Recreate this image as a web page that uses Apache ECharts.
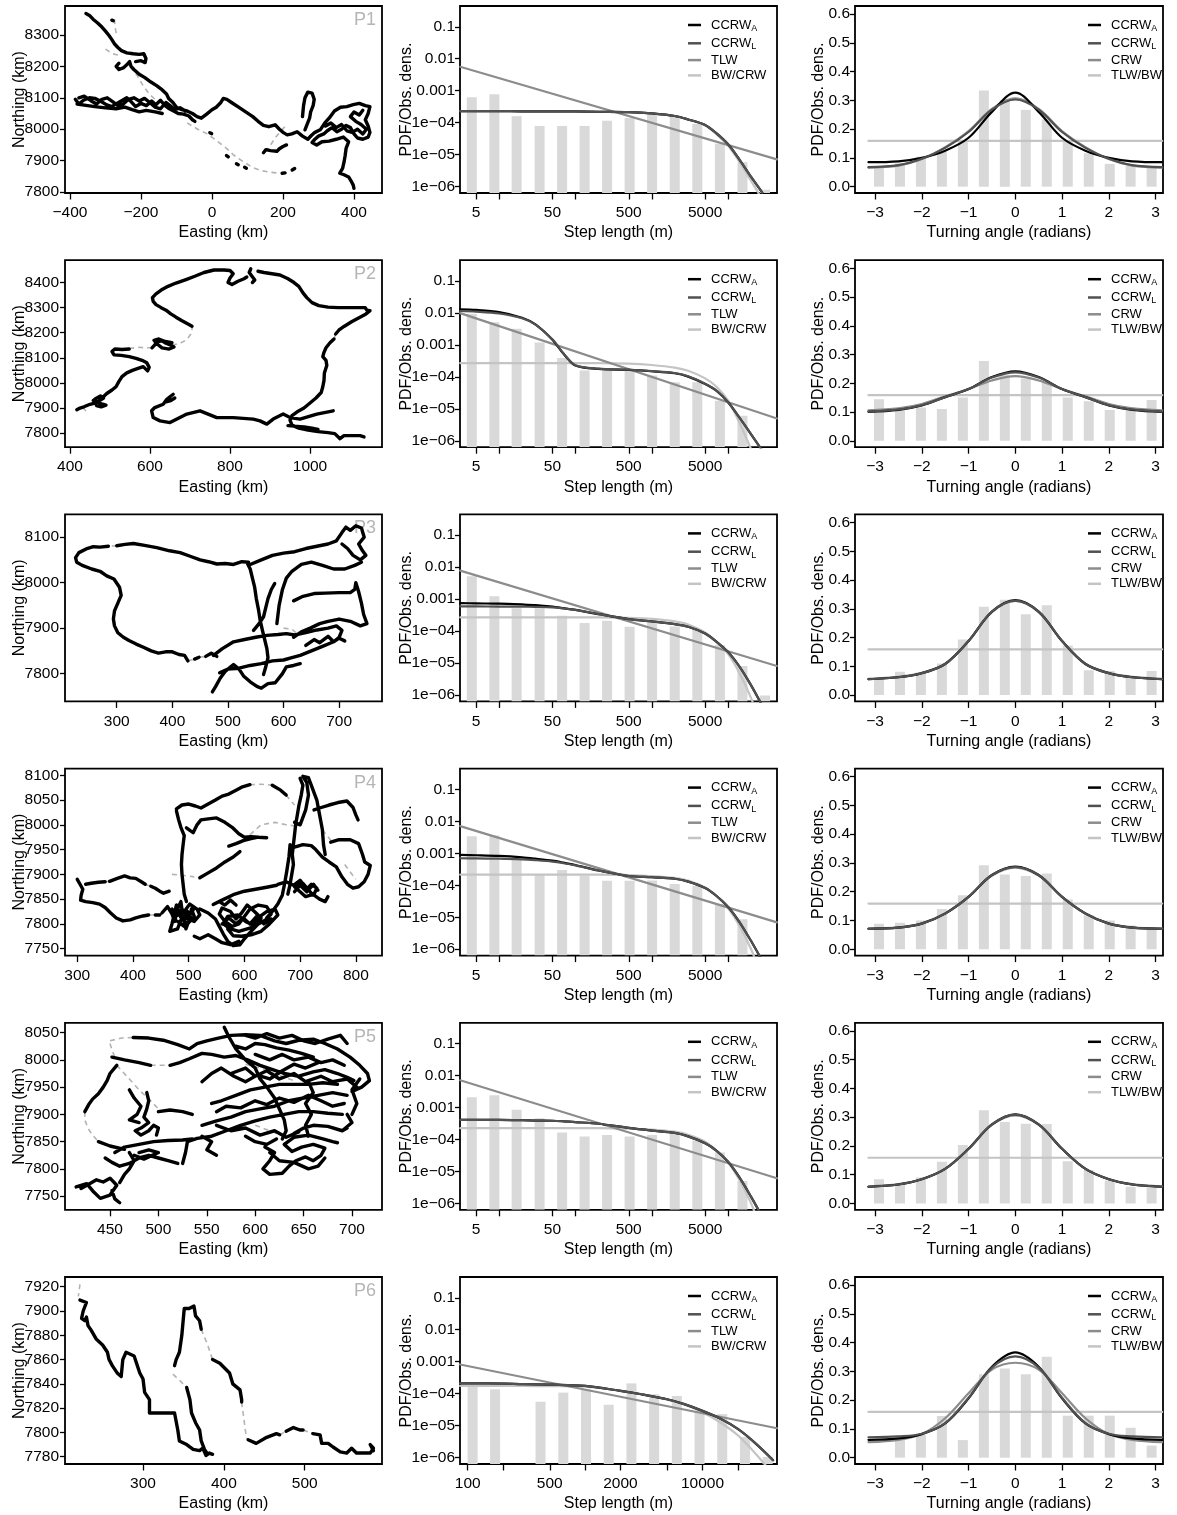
<!DOCTYPE html>
<html><head><meta charset="utf-8">
<script src="https://cdn.jsdelivr.net/npm/echarts@6/dist/echarts.min.js"></script>
<style>html,body{margin:0;padding:0;background:#fff}#c{width:1177px;height:1515px}</style>
</head><body><div id="c"></div>
<script>
// ---------------- DATA ----------------
const panelLabels = ['P1','P2','P3','P4','P5','P6'];

// Column 1: axis ranges & ticks (km)
const mapXRange = [[-414,479],[387.5,1180],[207,777],[278,847],[403.5,731],[203.5,595.6]];
const mapYRange = [[7797,8392],[7744,8489],[7739,8150],[7736,8113.5],[7725,8068],[7774,7928]];
const mapXTicks = [[-400,-200,0,200,400],[400,600,800,1000],[300,400,500,600,700],[300,400,500,600,700,800],[450,500,550,600,650,700],[300,400,500]];
const mapYTicks = [[7800,7900,8000,8100,8200,8300],[7800,7900,8000,8100,8200,8300,8400],[7800,7900,8000,8100],[7750,7800,7850,7900,7950,8000,8050,8100],[7750,7800,7850,7900,7950,8000,8050],[7780,7800,7820,7840,7860,7880,7900,7920]];

// Tracks: segments of flat [x,y,x,y,...] (km)
const p1Track = [
 [-355,8368,-345,8362,-335,8350,-322,8338,-310,8325,-300,8312,-290,8298,-282,8285,-275,8272,-265,8260,-255,8250,-240,8243,-222,8240,-205,8238,-192,8240,-186,8225,-188,8212,-200,8218,-215,8215],
 [-262,8210,-270,8200,-262,8190,-250,8195,-240,8205,-232,8215,-228,8200,-220,8190,-205,8175,-190,8165,-172,8150,-155,8138,-140,8125,-128,8112,-122,8098,-110,8085,-100,8070,-85,8062,-70,8058,-55,8050,-42,8040,-30,8035,-15,8048,0,8062,12,8070,25,8085,32,8098,42,8095,55,8085,75,8070,95,8055,115,8040,130,8025,145,8012,160,8008,178,8014,190,8000,200,7990,212,7982,225,7985,240,7992,255,7978,270,7968,280,7980,290,7990],
 [-385,8095,-375,8080,-362,8092,-345,8100,-330,8098,-312,8088,-298,8078,-282,8072,-268,8082,-252,8092,-240,8100,-228,8088,-215,8072,-200,8082,-185,8075,-170,8090,-158,8078,-145,8092,-132,8075,-120,8065,-108,8058,-95,8050,-80,8048,-65,8042,-55,8030,-48,8025],
 [-380,8080,-355,8076,-330,8072,-300,8068,-270,8065,-245,8070,-225,8062,-205,8055,-185,8060,-160,8055,-140,8050],
 [-375,8100,-360,8105,-340,8090,-325,8080,-310,8095,-295,8100,-280,8088,-265,8075,-250,8080,-235,8095,-220,8100,-205,8090,-190,8098,-175,8085,-160,8070,-145,8065,-130,8085,-118,8075,-105,8062,-90,8068,-75,8058],
 [255,8040,258,8075,262,8100,270,8118,282,8115,288,8095,285,8075,278,8055,275,8035,268,8015,262,7998],
 [290,7990,305,7998,318,8020,330,8035,345,8058,362,8070,380,8072,398,8078,415,8082,432,8075,445,8072,440,8050,432,8030,440,8010,445,7990,440,7975,425,7968,410,7972,400,7985,390,8005,378,8012,365,8000,352,7992,338,8005,325,7995,315,7985,300,7978,290,7968,282,7958,295,7950,310,7960,330,7962,350,7968,370,7975,385,7960,378,7940,375,7915,372,7895,368,7875,360,7860,372,7855,385,7848,392,7835,398,7822,400,7812],
 [320,8010,335,8020,350,8005,365,8015,380,7995,395,7990,410,8000,425,7985,435,8000,420,8015,405,8025,390,8040,400,8055,415,8045,425,8060],
 [145,7925,152,7935,165,7932,183,7930,190,7938,200,7945,210,7950],
 [-6,7989,-1,7986],[41,7916,46,7912],[69,7890,74,7887],[92,7879,97,7876],[198,7860,206,7861],[226,7870,233,7875],[-282,8347,-278,8345]
];
const p1Gap = [
 [-275,8350,-272,8320,-268,8295],
 [-300,8255,-280,8240,-262,8235],
 [-230,8200,-210,8170,-195,8140,-175,8110,-160,8095],
 [-70,8020,-40,8000,-13,7985,15,7962,40,7940,61,7918,90,7895,117,7877,140,7868,165,7863,190,7860,205,7861],
 [150,7928,165,7950,180,7975,195,7995,205,8008]
];
const p2Track = [
 [417,7893,425,7900,435,7905,450,7915,462,7920,472,7928,484,7940,476,7948,465,7938,458,7930,470,7922,482,7915,490,7912,478,7905,466,7910],
 [480,7940,492,7958,505,7972,515,7985,522,8005,530,8025,542,8040,556,8050,570,8058,583,8065,594,8048,598,8062,592,8080,580,8090,565,8098,548,8105,528,8110,510,8112,505,8125,512,8135,530,8133,548,8135],
 [605,8140,612,8152,620,8165,630,8168,640,8158,652,8150,660,8143,648,8135,630,8140,618,8155,610,8170,622,8175,638,8165,655,8160],
 [705,8226,695,8235,680,8248,665,8262,652,8275,640,8290,628,8300,615,8312,608,8325,606,8340,615,8355,628,8370,645,8385,665,8398,690,8412,712,8425,735,8440,760,8450,785,8450,800,8448,808,8435,800,8418,795,8400,805,8392,820,8405,835,8415,842,8422],
 [852,8455,848,8440,855,8425,862,8410,856,8400],
 [870,8445,885,8440,905,8435,925,8430,945,8415,960,8400,972,8385,982,8360,992,8340,1005,8320,1022,8308,1045,8302,1070,8300,1095,8300,1120,8300,1138,8300,1142,8290,1150,8288,1155,8294,1140,8275,1125,8262,1105,8245,1085,8225,1072,8210,1064,8195],
 [1060,8175,1050,8160,1040,8140,1035,8122,1032,8105,1040,8090,1042,8070,1036,8040,1035,8010,1032,7985,1028,7962,1015,7940,1000,7920,985,7900,968,7885,955,7870,950,7852,955,7832,972,7820,995,7812,1020,7806,1045,7802,1062,7798,1075,7778,1085,7790,1105,7790,1125,7790,1135,7785],
 [1058,7889,1017,7876,975,7856,950,7862,933,7876,908,7856,892,7836,875,7849,858,7856,808,7862,767,7862,725,7889,692,7876,650,7842,625,7849,608,7862,604,7889,612,7902,633,7915,642,7935,658,7955,650,7945,640,7925,652,7930,662,7940],
 [945,7830,960,7828,985,7825,1005,7820,1020,7815]
];
const p2Gap = [
 [548,8137,570,8142,590,8140,608,8140],
 [655,8150,675,8158,692,8172,702,8195,706,8222],
 [1064,8195,1060,8175],
 [432,7902,440,7888]
];
const p3Track = [
 [537,8045,525,8046,510,8040,495,8042,480,8041,465,8046,450,8050,432,8058,414,8066,395,8070,372,8077,350,8082,330,8086,315,8084,300,8081],
 [285,8080,270,8078,258,8079,245,8074,232,8066,226,8055,228,8045,238,8038,255,8030,270,8025,282,8015,295,8008,305,7990,308,7972,302,7955,296,7938,294,7920,296,7905,302,7890,312,7880,322,7873,335,7865,348,7858,362,7850,375,7845,388,7848,400,7848,412,7842,422,7840,428,7828],
 [440,7832,448,7836],[460,7838,470,7845,480,7838],
 [472,7760,478,7772,486,7790,495,7805,510,7820,520,7810,528,7795,540,7782,552,7772,560,7768,572,7778,585,7780,598,7800,605,7815,618,7818,630,7822],
 [474,7840,490,7855,510,7870,530,7875,550,7880,570,7884,590,7886,605,7888,620,7885,640,7890,660,7896,680,7900,695,7905,705,7895,700,7880,690,7870,670,7860,650,7850,630,7840,615,7835,600,7830,580,7828,560,7822,540,7818,520,7812,500,7810,485,7802],
 [534,8045,540,8030,544,8010,548,7990,551,7965,555,7940,558,7917,562,7895,566,7875,570,7855,572,7835,568,7815,564,7798],
 [540,8040,560,8050,580,8060,600,8065,620,8068,640,8075,660,8080,680,8085,695,8092,705,8110,712,8122,720,8115,730,8125,740,8120,745,8100,735,8085,742,8070,748,8060,738,8050,725,8060,715,8075,705,8085],
 [588,7910,592,7950,598,7985,605,8010,615,8025,632,8040,650,8045,670,8038,690,8030,710,8030,728,8038,740,8045],
 [618,7960,635,7970,655,7976,675,7977,700,7978,720,7978,728,7985,730,8000,735,7980,740,7955,744,7930,750,7910,738,7905,720,7915,700,7920,680,7915,665,7910,648,7900,632,7892,618,7880],
 [546,7895,556,7910,564,7925,568,7945,572,7965,578,7985,584,7998],
 [640,7862,655,7875,665,7868,680,7882,690,7870,700,7878,710,7872]
];
const p3Gap = [[300,8081,285,8080],[428,7828,440,7832],[448,7836,460,7838],[600,7900,615,7898,622,7890]];
const p4Track = [
 [300,7890,305,7880,310,7870,307,7858,306,7848,315,7845,328,7843,340,7840,350,7833,360,7822,370,7812,382,7806,395,7808,405,7812,418,7816,428,7818],
 [440,7818,448,7818],
 [315,7880,325,7882,338,7884,350,7885],
 [358,7886,372,7892,385,7897,395,7893,405,7892,415,7885,422,7880],
 [432,7876,440,7872,448,7866,455,7862,465,7866],
 [452,7822,462,7835,470,7820,475,7805,480,7830,486,7845,490,7812,495,7790,500,7805,505,7830,510,7815,498,7800,485,7815,478,7838,470,7800,466,7785,480,7790,492,7825,502,7840,515,7830,520,7818,510,7805,495,7812,488,7822,475,7815],
 [520,7830,535,7822,548,7810,555,7795,562,7780,570,7765,580,7756,592,7758,600,7770,612,7785,625,7800,638,7808,648,7820,640,7835,625,7838,610,7830,600,7815,590,7800,578,7795,565,7805,555,7820,560,7832,575,7825,585,7810,595,7822,605,7838,618,7825,630,7812,620,7795,605,7790,590,7785,575,7790,562,7800,570,7815,588,7818,602,7805,615,7798,628,7815,640,7825,655,7830,660,7818,645,7800,630,7785,612,7778,595,7775,580,7776,570,7790],
 [560,7800,572,7812,585,7800,598,7812,610,7800,622,7815,635,7800,648,7810],
 [470,7830,478,7818,488,7830,498,7815,508,7828],
 [480,7805,492,7795,505,7810,498,7825],
 [555,7845,565,7838,575,7848,585,7838],
 [510,7775,520,7770,535,7778,548,7770,560,7762,575,7758,590,7765],
 [478,8028,482,8010,486,7995,492,7978,490,7960,488,7940,487,7920,488,7900,490,7880,492,7860,496,7845],
 [496,7994,508,7984,515,8000,522,8010,535,8012,550,8014,565,8005,578,7995,590,7982,600,7975,612,7976,625,7975,640,7974],
 [478,8032,488,8040,500,8042,512,8038,522,8034,535,8042,548,8050,560,8058,572,8062,585,8070,595,8076,610,8081],
 [650,8080,665,8070,675,8060],
 [572,7957,585,7962,598,7968,612,7972,625,7975],
 [520,7893,535,7903,550,7913,565,7925,580,7935,592,7946],
 [700,8094,705,8080,702,8060,698,8040,695,8020,692,8000,690,7980,688,7960,686,7940,688,7920,685,7900,682,7880,678,7860],
 [690,8005,700,8000,710,8030,715,8060,712,8085,705,8098,715,8095,720,8080,730,8050,735,8020,740,7990,742,7960,745,7940],
 [725,8030,738,8035,752,8040,768,8045,784,8048,795,8035,800,8020,804,8010],
 [755,7965,770,7970,790,7970,805,7962,812,7940,816,7925,826,7918,822,7900,815,7885,805,7875,795,7872,785,7880,775,7895,765,7915,752,7925,740,7935,728,7950,720,7958,705,7960,690,7955],
 [660,7880,675,7885,688,7878,700,7888,712,7870,720,7880,730,7872,725,7860,710,7855,700,7865,690,7875,705,7882,720,7862,735,7850,745,7845,750,7855],
 [690,7865,700,7878,712,7865,724,7880,732,7868],
 [544,7839,560,7848,580,7859,600,7866,620,7870,640,7874,658,7878],
 [640,7812,650,7825,660,7840,668,7858,672,7880,676,7906,680,7935,682,7960]
];
const p4Gap = [[428,7818,440,7818],[350,7885,358,7886],[422,7880,432,7876],[610,8081,630,8082,650,8080],[675,8060,682,8050,690,8040],[470,7900,490,7898,510,7895],[610,7980,630,8000,655,8005,675,8000,690,7998],[740,7990,760,7962],[780,7920,800,7890]];
const p5Track = [
 [474,8041,490,8040,505,8036,520,8028,532,8020,540,8030,550,8035,562,8040,575,8045,590,8046,605,8045,620,8035,632,8030,645,8036,660,8038,672,8030,685,8020,698,8005,708,7990,716,7975,718,7962,710,7950,700,7942],
 [452,8005,465,8000,480,7995,492,7990],
 [512,7990,522,7995,532,8002,545,8012,555,8010,568,8005,580,8008,592,8000,605,7990,618,7982,630,7975,645,7970,660,7978,672,7982,685,7975,695,7968,702,7962],
 [457,7990,450,7975,447,7962,443,7950,438,7938,432,7928,428,7918,424,7905],
 [438,7850,450,7842,465,7836],
 [415,7767,426,7773,433,7758,440,7746,450,7752,457,7770,450,7783,443,7776,436,7780,428,7772,420,7764],
 [452,7760,455,7745,460,7738],
 [445,7820,452,7812,460,7805,470,7810,480,7820,490,7825,500,7820,510,7815,520,7810],
 [455,7830,465,7840,480,7845,495,7850,510,7852,525,7853,535,7855],
 [470,7830,475,7815,470,7800,465,7790,460,7775],
 [480,7830,490,7835,500,7830,485,7818,475,7825],
 [525,7810,528,7830,530,7850,540,7856,555,7860,570,7870,585,7880,600,7888,615,7895,630,7900,645,7905,660,7905,675,7902,690,7900],
 [545,7880,560,7888,575,7895,590,7905,605,7910,620,7915,635,7925,650,7930,665,7935,680,7940,695,7935],
 [555,7920,565,7925,580,7935,595,7945,610,7950,625,7955,640,7955,655,7955,670,7958,685,7955],
 [488,7940,490,7925,488,7910,485,7895,490,7885,482,7875,476,7870,482,7862,490,7870,495,7880,500,7875,498,7862],
 [470,7945,475,7930,482,7915,478,7900,470,7890,480,7885],
 [500,7905,512,7908,525,7905,535,7900],
 [610,7840,620,7830,615,7815,608,7800,615,7790,628,7792,635,7805,642,7815,652,7822,660,7815,668,7825,672,7838,660,7845,648,7840,638,7832,630,7845,640,7858,655,7862,670,7855,680,7850,685,7848],
 [615,7830,625,7815,640,7812,655,7800,665,7805,672,7820],
 [640,7865,650,7875,660,7880,675,7878,690,7870,695,7875],
 [560,7880,575,7870,590,7875,605,7862,620,7870,632,7858,645,7868],
 [590,7860,600,7850,612,7845,622,7855],
 [545,7860,555,7850,550,7835,560,7825],
 [568,8060,572,8045,580,8020,590,8000,600,7985,605,7965,612,7950,620,7930,625,7910,630,7890,632,7870,628,7855],
 [580,8025,590,8020,600,8030,610,8028,622,8022,635,8018,648,8012,660,8005],
 [590,8045,600,8040,612,8048,625,8040,638,8045,650,8035,662,8030,675,8038,688,8045,695,8030],
 [600,8010,615,8000,628,8010,640,8000,655,8005,668,7995,680,8000,692,7990],
 [575,7975,590,7985,600,7970,612,7980,625,7965,640,7975,652,7960,668,7970,680,7960,695,7965,705,7950],
 [560,7905,570,7915,585,7912,600,7925,612,7918,625,7930,640,7922,655,7935,668,7925,680,7915,692,7920],
 [545,7960,555,7975,565,7985,578,7970,590,7960,602,7972,615,7965,628,7980,640,7992,652,7985,665,7995],
 [655,7860,652,7880,658,7900,652,7920,660,7940,655,7960],
 [700,7900,705,7920,700,7945,708,7965],
 [690,7870,700,7885,695,7900]
];
const p5Gap = [[450,8035,462,8040,474,8041],[450,8030,452,8018,455,8005],[492,7990,502,7990,512,7990],[424,7905,424,7890,427,7875,432,7862,438,7850],[457,7990,470,7965,480,7945,492,7925,500,7910],[590,7992,605,7985,620,7975,640,7962],[600,7880,615,7870,630,7860]];
const p6Track = [
 [222,7909,230,7907,226,7900,224,7894,228,7892,230,7895,232,7888,236,7884,242,7877,250,7872,256,7866,258,7860,262,7855,268,7849,273,7846,275,7860,279,7866,289,7863,296,7849,300,7844,302,7833,308,7827,308,7816,321,7816,333,7816,339,7816,343,7802,345,7793,354,7790,362,7786,370,7785,374,7787,378,7781,382,7783,386,7782],
 [339,7855,341,7860,345,7866,348,7880,351,7902,357,7902,363,7904,365,7896,370,7892,372,7885],
 [386,7860,395,7857,407,7849,411,7840,420,7835,422,7827,422,7825],
 [354,7837,358,7827,360,7816,365,7808,370,7802,372,7793,376,7786,380,7782],
 [430,7794,440,7791,453,7796,465,7799,469,7798],
 [477,7801,486,7804,494,7802,498,7802],
 [510,7799,519,7798,521,7791,529,7791,535,7788,544,7784,552,7783,558,7787,564,7783,581,7783,585,7787,581,7790,585,7785]
];
const p6Gap = [[222,7922,220,7912],[372,7885,380,7872,386,7860],[337,7848,345,7843,354,7837],[422,7825,425,7810,428,7795],[469,7798,477,7801],[498,7802,510,7799]];

// Column 2: step length (m) and densities
const stepTicks = [5,10,50,100,500,1000,5000,10000];
const stepLabels = [5,50,500,5000];
const stepTicksP6 = [100,200,500,1000,2000,5000,10000,20000];
const stepLabelsP6 = [100,500,2000,10000];
const densTicks = [1e-6,1e-5,1e-4,1e-3,1e-2,1e-1];
const stepBins = [4.4,8.7,17,34,67,132,260,513,1010,2000,3950,7800,15400,30400];
const stepBinsP6 = [110,171,267,417,652,1018,1589,2481,3873,6047,9441,14740,23010,35930];
const stepGrid = [3.1,5,10,20,30,50,70,100,200,500,1000,2000,3000,5000,7000,10000,14000,20000,28000];
const stepGridP6 = [86,150,300,500,1000,2000,3000,5000,7000,10000,14000,20000,28000,40000];
const tlwX = [3.1,43500];
const tlwXP6 = [86,43200];

const p1StepBars = [6.2e-4,7.8e-4,1.6e-4,7.9e-5,7.9e-5,7.9e-5,1.15e-4,1.4e-4,1.95e-4,1.65e-4,9.1e-5,2.2e-5,5.8e-6,8e-7];
const p2StepBars = [9.4e-3,5.1e-3,3.2e-3,1.2e-3,3.9e-4,1.58e-4,1.58e-4,1.58e-4,1.1e-4,6.8e-5,6.8e-5,1.8e-5,6.1e-6,null];
const p3StepBars = [5.2e-3,1.22e-3,5.2e-4,5.2e-4,3.0e-4,1.78e-4,2.1e-4,1.36e-4,1.78e-4,1.4e-4,1.17e-4,3.7e-5,8.1e-6,9.6e-7];
const p4StepBars = [3.4e-3,3.6e-3,6.7e-4,2.15e-4,3.0e-4,2.0e-4,1.39e-4,1.39e-4,1.4e-4,1.1e-4,9.7e-5,2.6e-5,8.7e-6,null];
const p5StepBars = [2.1e-3,2.4e-3,8.5e-4,4.6e-4,1.65e-4,1.24e-4,1.39e-4,1.24e-4,1.39e-4,1.5e-4,9.3e-5,3.9e-5,5.0e-6,null];
const p6StepBars = [1.75e-4,1.37e-4,null,5.6e-5,1.08e-4,1.37e-4,4.5e-5,2.1e-4,9.6e-5,8.5e-5,2.9e-5,2.3e-5,4.4e-6,1.05e-6];

const p1StepA  = [2.3e-4,2.3e-4,2.3e-4,2.27e-4,2.27e-4,2.26e-4,2.26e-4,2.25e-4,2.2e-4,2.15e-4,1.95e-4,1.62e-4,1.26e-4,8.5e-5,4.7e-5,2.1e-5,7.1e-6,2.0e-6,6.5e-7];
const p1StepL  = [2.3e-4,2.3e-4,2.3e-4,2.27e-4,2.27e-4,2.26e-4,2.26e-4,2.25e-4,2.2e-4,2.15e-4,1.95e-4,1.62e-4,1.26e-4,8.5e-5,4.7e-5,2.1e-5,7.1e-6,2.0e-6,6.5e-7];
const p1StepBW = [2.3e-4,2.3e-4,2.3e-4,2.27e-4,2.27e-4,2.26e-4,2.26e-4,2.25e-4,2.2e-4,2.15e-4,1.95e-4,1.6e-4,1.25e-4,8.2e-5,4.4e-5,1.9e-5,6e-6,1.5e-6,4e-7];
const p1TLW = [5.6e-3,7.1e-6];
const p2StepA  = [1.29e-2,1.24e-2,1.06e-2,7.1e-3,4.4e-3,1.45e-3,5.25e-4,2.26e-4,1.77e-4,1.65e-4,1.5e-4,1.3e-4,1.02e-4,6.0e-5,3.7e-5,1.6e-5,5.4e-6,1.6e-6,4.9e-7];
const p2StepL  = [1.15e-2,1.1e-2,9.6e-3,6.8e-3,4.3e-3,1.5e-3,5.4e-4,2.3e-4,1.8e-4,1.67e-4,1.52e-4,1.32e-4,1.04e-4,6.1e-5,3.8e-5,1.6e-5,5.4e-6,1.6e-6,4.9e-7];
const p2StepBW = [2.7e-4,2.7e-4,2.7e-4,2.7e-4,2.7e-4,2.7e-4,2.7e-4,2.7e-4,2.7e-4,2.6e-4,2.35e-4,1.95e-4,1.55e-4,9.0e-5,5.0e-5,1.8e-5,3.8e-6,5.5e-7,1e-7];
const p2TLW = [9.9e-3,5.0e-6];
const p3StepA  = [7.5e-4,7.35e-4,7.2e-4,6.8e-4,6.5e-4,5.8e-4,5.2e-4,4.6e-4,3.4e-4,2.37e-4,2.0e-4,1.65e-4,1.36e-4,8.4e-5,4.7e-5,2.2e-5,7.8e-6,2.0e-6,4.6e-7];
const p3StepL  = [5.9e-4,5.9e-4,5.85e-4,5.8e-4,5.7e-4,5.5e-4,5.1e-4,4.6e-4,3.4e-4,2.37e-4,2.0e-4,1.65e-4,1.36e-4,8.4e-5,4.7e-5,2.2e-5,7.8e-6,2.0e-6,4.6e-7];
const p3StepBW = [2.7e-4,2.7e-4,2.7e-4,2.7e-4,2.7e-4,2.7e-4,2.7e-4,2.7e-4,2.7e-4,2.6e-4,2.4e-4,2.0e-4,1.6e-4,9e-5,4.6e-5,1.9e-5,5e-6,8e-7,8e-8];
const p3TLW = [7.8e-3,8.1e-6];
const p4StepA  = [8.9e-4,8.7e-4,8.3e-4,7.5e-4,6.8e-4,5.9e-4,5.1e-4,4.3e-4,2.9e-4,1.95e-4,1.78e-4,1.6e-4,1.3e-4,8.2e-5,4.7e-5,2.1e-5,7.2e-6,1.8e-6,4.3e-7];
const p4StepL  = [7.0e-4,6.9e-4,6.8e-4,6.5e-4,6.1e-4,5.5e-4,4.9e-4,4.2e-4,2.9e-4,1.95e-4,1.78e-4,1.6e-4,1.3e-4,8.2e-5,4.7e-5,2.1e-5,7.2e-6,1.8e-6,4.3e-7];
const p4StepBW = [2.15e-4,2.15e-4,2.15e-4,2.15e-4,2.15e-4,2.15e-4,2.15e-4,2.15e-4,2.15e-4,2.1e-4,1.95e-4,1.7e-4,1.4e-4,8.5e-5,4.6e-5,1.9e-5,5.5e-6,1.0e-6,1.2e-7];
const p4TLW = [7.1e-3,6.9e-6];
const p5StepA  = [4.1e-4,4.1e-4,4.1e-4,4.0e-4,3.9e-4,3.85e-4,3.7e-4,3.5e-4,3.1e-4,2.3e-4,1.9e-4,1.6e-4,1.25e-4,7.6e-5,4.5e-5,2.0e-5,6.6e-6,1.6e-6,3.8e-7];
const p5StepL  = [4.1e-4,4.1e-4,4.1e-4,4.0e-4,3.9e-4,3.85e-4,3.7e-4,3.5e-4,3.1e-4,2.3e-4,1.9e-4,1.6e-4,1.25e-4,7.6e-5,4.5e-5,2.0e-5,6.6e-6,1.6e-6,3.8e-7];
const p5StepBW = [2.26e-4,2.26e-4,2.26e-4,2.26e-4,2.26e-4,2.26e-4,2.26e-4,2.26e-4,2.26e-4,2.2e-4,2.05e-4,1.75e-4,1.4e-4,8.5e-5,4.6e-5,1.9e-5,5.5e-6,1e-6,1.2e-7];
const p5TLW = [7.1e-3,6.1e-6];
const p6StepA  = [2.1e-4,2.1e-4,2.0e-4,1.92e-4,1.75e-4,1.22e-4,9.6e-5,6.7e-5,4.7e-5,2.9e-5,1.7e-5,7.9e-6,2.9e-6,8.3e-7];
const p6StepL  = [2.1e-4,2.1e-4,2.0e-4,1.92e-4,1.75e-4,1.22e-4,9.6e-5,6.7e-5,4.7e-5,2.9e-5,1.7e-5,7.9e-6,2.9e-6,8.3e-7];
const p6StepBW = [1.75e-4,1.75e-4,1.74e-4,1.72e-4,1.65e-4,1.25e-4,9.8e-5,6.5e-5,4.6e-5,2.6e-5,1.3e-5,5.0e-6,1.4e-6,3e-7];
const p6TLW = [8.2e-4,8.3e-6];

// Column 3: turning angle (radians)
const angleTicks = [-3,-2,-1,0,1,2,3];
const angleDensTicks = [0,0.1,0.2,0.3,0.4,0.5,0.6];
const angleBins = [-2.917,-2.468,-2.02,-1.571,-1.122,-0.673,-0.224,0.224,0.673,1.122,1.571,2.02,2.468,2.917];
const angleGrid = [-3.1416,-2.5,-2,-1.5,-1,-0.5,0,0.5,1,1.5,2,2.5,3.1416];
const tlwbwX = [-3.1416,3.1416];
const tlwbwLevel = 0.159;

const p1AngBars = [0.064,0.081,0.104,0.122,0.162,0.334,0.30,0.267,0.234,0.162,0.116,0.079,0.073,0.07];
const p2AngBars = [0.145,0.107,0.116,0.111,0.151,0.278,0.229,0.217,0.205,0.151,0.138,0.107,0.116,0.142];
const p3AngBars = [0.058,0.081,0.078,0.110,0.193,0.307,0.331,0.281,0.312,0.172,0.086,0.084,0.066,0.084];
const p4AngBars = [0.089,0.092,0.10,0.14,0.188,0.292,0.26,0.255,0.263,0.173,0.118,0.10,0.083,0.075];
const p5AngBars = [0.084,0.07,0.09,0.145,0.203,0.324,0.283,0.277,0.276,0.147,0.116,0.08,0.058,0.06];
const p6AngBars = [null,0.067,0.079,0.145,0.061,0.29,0.31,0.29,0.351,0.146,0.146,0.146,0.104,0.042];

const p1AngA   = [0.085,0.088,0.10,0.125,0.17,0.26,0.327,0.26,0.17,0.125,0.10,0.088,0.085];
const p1AngL   = [0.068,0.075,0.097,0.135,0.19,0.268,0.303,0.268,0.19,0.135,0.097,0.075,0.068];
const p1AngCRW = [0.066,0.073,0.096,0.137,0.193,0.27,0.307,0.27,0.193,0.137,0.096,0.073,0.066];
const p2AngA   = [0.101,0.108,0.123,0.152,0.18,0.222,0.242,0.222,0.18,0.152,0.123,0.108,0.101];
const p2AngL   = [0.102,0.109,0.124,0.152,0.18,0.22,0.238,0.22,0.18,0.152,0.124,0.109,0.102];
const p2AngCRW = [0.106,0.113,0.128,0.155,0.18,0.21,0.225,0.21,0.18,0.155,0.128,0.113,0.106];
const p3AngA   = [0.055,0.062,0.076,0.108,0.188,0.29,0.33,0.29,0.188,0.108,0.076,0.062,0.055];
const p3AngL   = [0.055,0.062,0.076,0.108,0.188,0.29,0.328,0.29,0.188,0.108,0.076,0.062,0.055];
const p3AngCRW = [0.056,0.063,0.077,0.109,0.188,0.288,0.327,0.288,0.188,0.109,0.077,0.063,0.056];
const p4AngA   = [0.071,0.075,0.089,0.124,0.182,0.258,0.287,0.258,0.182,0.124,0.089,0.075,0.071];
const p4AngL   = [0.071,0.075,0.089,0.124,0.182,0.258,0.286,0.258,0.182,0.124,0.089,0.075,0.071];
const p4AngCRW = [0.072,0.076,0.09,0.125,0.182,0.256,0.284,0.256,0.182,0.125,0.09,0.076,0.072];
const p5AngA   = [0.058,0.066,0.084,0.12,0.19,0.275,0.31,0.275,0.19,0.12,0.084,0.066,0.058];
const p5AngL   = [0.058,0.066,0.084,0.12,0.19,0.275,0.309,0.275,0.19,0.12,0.084,0.066,0.058];
const p5AngCRW = [0.059,0.067,0.085,0.121,0.19,0.273,0.306,0.273,0.19,0.121,0.085,0.067,0.059];
const p6AngA   = [0.062,0.067,0.082,0.119,0.206,0.316,0.366,0.316,0.206,0.119,0.082,0.067,0.062];
const p6AngL   = [0.071,0.074,0.083,0.12,0.208,0.313,0.352,0.313,0.208,0.12,0.083,0.074,0.071];
const p6AngCRW = [0.054,0.062,0.082,0.137,0.224,0.306,0.33,0.306,0.224,0.137,0.082,0.062,0.054];

// ---------------- BUILD ----------------
const FF = '"Liberation Sans", Arial, Helvetica, sans-serif';
const C_A = '#000000', C_L = '#515151', C_M = '#8c8c8c', C_LT = '#c4c4c4', C_BAR = '#d9d9d9';
const rowTop = r => 6 + 254.2 * r;
const GH = 187;
const colPos = [[65, 317], [460, 317], [855, 308]];
const DENS_MIN = -6.2, DENS_MAX = -0.35;

const tracks = [p1Track, p2Track, p3Track, p4Track, p5Track, p6Track];
const gaps = [p1Gap, p2Gap, p3Gap, p4Gap, p5Gap, p6Gap];
const stepBarsAll = [p1StepBars, p2StepBars, p3StepBars, p4StepBars, p5StepBars, p6StepBars];
const stepAAll = [p1StepA, p2StepA, p3StepA, p4StepA, p5StepA, p6StepA];
const stepLAll = [p1StepL, p2StepL, p3StepL, p4StepL, p5StepL, p6StepL];
const stepBWAll = [p1StepBW, p2StepBW, p3StepBW, p4StepBW, p5StepBW, p6StepBW];
const tlwAll = [p1TLW, p2TLW, p3TLW, p4TLW, p5TLW, p6TLW];
const angBarsAll = [p1AngBars, p2AngBars, p3AngBars, p4AngBars, p5AngBars, p6AngBars];
const angAAll = [p1AngA, p2AngA, p3AngA, p4AngA, p5AngA, p6AngA];
const angLAll = [p1AngL, p2AngL, p3AngL, p4AngL, p5AngL, p6AngL];
const angCRWAll = [p1AngCRW, p2AngCRW, p3AngCRW, p4AngCRW, p5AngCRW, p6AngCRW];

const lg = Math.log10;
function segs(list) {
  const out = [];
  list.forEach((s, k) => {
    if (k > 0) out.push(['-', '-']);
    for (let i = 0; i < s.length; i += 2) out.push([s[i], s[i + 1]]);
  });
  return out;
}
const minus = s => String(s).replace('-', '\u2212');
function barRenderer(base) {
  return function (params, api) {
    const x = api.value(0), y = api.value(1);
    const top = api.coord([x, y]);
    const bot = api.coord([x, base]);
    return { type: 'rect', shape: { x: top[0] - 5, y: top[1], width: 10, height: bot[1] - top[1] }, style: { fill: C_BAR } };
  };
}
function axis(idx, min, max, ticks, labels, fmt, name, nameGap, tickLen, margin) {
  return {
    gridIndex: idx, type: 'value', min: min, max: max,
    name: name, nameLocation: 'middle', nameGap: nameGap, nameMoveOverlap: false,
    nameTextStyle: { fontFamily: FF, fontSize: 16, color: '#000' },
    axisLine: { show: false, onZero: false }, splitLine: { show: false }, splitArea: { show: false },
    minorTick: { show: false }, minorSplitLine: { show: false },
    axisTick: { show: true, inside: false, length: tickLen, lineStyle: { color: '#000', width: 1.3 }, customValues: ticks },
    axisLabel: { show: true, customValues: labels, formatter: fmt, fontFamily: FF, fontSize: 15.5, color: '#000', margin: margin, hideOverlap: false },
    axisPointer: { show: false }
  };
}
function line(name, idx, data, color, width, smooth) {
  return {
    type: 'line', name: name, xAxisIndex: idx, yAxisIndex: idx, data: data,
    symbol: 'none', showSymbol: false, smooth: smooth, color: color,
    itemStyle: { color: color }, lineStyle: { color: color, width: width, cap: 'round', join: 'round' },
    silent: true, animation: false, clip: true, z: 3
  };
}
const densLabel = { '-1': '0.1', '-2': '0.01', '-3': '0.001', '-4': '1e\u221204', '-5': '1e\u221205', '-6': '1e\u221206' };
function legendFmt(n) {
  if (n === 'CCRW_A') return '{m|CCRW}{s|A}';
  if (n === 'CCRW_L') return '{m|CCRW}{s|L}';
  return '{m|' + n + '}';
}
const legendText = {
  fontFamily: FF, fontSize: 13, color: '#000', padding: [0, 0, 0, 5],
  rich: {
    m: { fontFamily: FF, fontSize: 13, color: '#000', lineHeight: 16 },
    s: { fontFamily: FF, fontSize: 9, color: '#000', lineHeight: 9, padding: [7, 0, 0, 0] }
  }
};

const grids = [], xAxes = [], yAxes = [], series = [], legends = [], titles = [];
for (let r = 0; r < 6; r++) {
  for (let c = 0; c < 3; c++) {
    grids.push({ left: colPos[c][0], top: rowTop(r), width: colPos[c][1], height: GH, show: true,
      borderColor: '#000', borderWidth: 1.8, backgroundColor: 'rgba(0,0,0,0)', containLabel: false, outerBoundsMode: 'none' });
  }
  const i1 = r * 3, i2 = r * 3 + 1, i3 = r * 3 + 2;
  // --- column 1: map ---
  xAxes.push(axis(i1, mapXRange[r][0], mapXRange[r][1], mapXTicks[r], mapXTicks[r], v => minus(v), 'Easting (km)', 32, 6.5, 12));
  yAxes.push(axis(i1, mapYRange[r][0], mapYRange[r][1], mapYTicks[r], mapYTicks[r], v => String(v), 'Northing (km)', 37, 5, 6));
  series.push({ type: 'line', name: 'gap' + r, xAxisIndex: i1, yAxisIndex: i1, data: segs(gaps[r]), symbol: 'none', showSymbol: false,
    lineStyle: { color: '#b3b3b3', width: 1.6, type: [5, 4] }, silent: true, animation: false, clip: true, z: 2 });
  series.push({ type: 'line', name: 'track' + r, xAxisIndex: i1, yAxisIndex: i1, data: segs(tracks[r]), symbol: 'none', showSymbol: false,
    lineStyle: { color: '#000', width: 3.4, cap: 'round', join: 'round' }, silent: true, animation: false, clip: true, z: 3 });
  titles.push({ text: panelLabels[r], right: 801, top: rowTop(r) + 5, padding: 0, z: 1,
    textStyle: { color: '#b5b5b5', fontSize: 18, fontWeight: 'normal', fontFamily: FF } });

  // --- column 2: step length ---
  const isP6 = r === 5;
  const sTicks = isP6 ? stepTicksP6 : stepTicks, sLabels = isP6 ? stepLabelsP6 : stepLabels;
  const sRange = isP6 ? [1.934, 4.635] : [0.489, 4.64];
  const bins = isP6 ? stepBinsP6 : stepBins, sgrid = isP6 ? stepGridP6 : stepGrid, tx = isP6 ? tlwXP6 : tlwX;
  xAxes.push(axis(i2, sRange[0], sRange[1], sTicks.map(lg), sLabels.map(lg), v => String(Math.round(Math.pow(10, v))), 'Step length (m)', 32, 6.5, 12));
  yAxes.push(axis(i2, DENS_MIN, DENS_MAX, densTicks.map(lg), densTicks.map(lg), v => densLabel[String(Math.round(v))], 'PDF/Obs. dens.', 45, 5, 5));
  const sb = [];
  stepBarsAll[r].forEach((v, k) => { if (v != null) sb.push([lg(bins[k]), lg(v)]); });
  series.push({ type: 'custom', name: 'sbars' + r, xAxisIndex: i2, yAxisIndex: i2, data: sb, renderItem: barRenderer(DENS_MIN), silent: true, animation: false, clip: true, z: 1 });
  const toLog = arr => sgrid.map((x, k) => [lg(x), lg(arr[k])]);
  series.push(line('BW/CRW', i2, toLog(stepBWAll[r]), C_LT, 2.2, 0.3));
  series.push(line('TLW', i2, tx.map((x, k) => [lg(x), lg(tlwAll[r][k])]), C_M, 2.2, false));
  series.push(line('CCRW_A', i2, toLog(stepAAll[r]), C_A, 2.2, 0.3));
  series.push(line('CCRW_L', i2, toLog(stepLAll[r]), C_L, 2.2, 0.3));
  legends.push({ data: ['CCRW_A', 'CCRW_L', 'TLW', 'BW/CRW'], orient: 'vertical', left: 688, top: rowTop(r) + 11, padding: 0,
    itemGap: 2.3, itemWidth: 13, itemHeight: 2.5, icon: 'rect', selectedMode: false, formatter: legendFmt, textStyle: legendText });

  // --- column 3: turning angle ---
  xAxes.push(axis(i3, -3.43, 3.16, angleTicks, angleTicks, v => minus(v), 'Turning angle (radians)', 32, 6.5, 12));
  yAxes.push(axis(i3, -0.022, 0.628, angleDensTicks, angleDensTicks, v => v.toFixed(1), 'PDF/Obs. dens.', 28, 5, 5));
  const ab = [];
  angBarsAll[r].forEach((v, k) => { if (v != null) ab.push([angleBins[k], v]); });
  series.push({ type: 'custom', name: 'abars' + r, xAxisIndex: i3, yAxisIndex: i3, data: ab, renderItem: barRenderer(0), silent: true, animation: false, clip: true, z: 1 });
  const toPts = arr => angleGrid.map((x, k) => [x, arr[k]]);
  series.push(line('TLW/BW', i3, tlwbwX.map(x => [x, tlwbwLevel]), C_LT, 2.2, false));
  series.push(line('CRW', i3, toPts(angCRWAll[r]), C_M, 2.2, 0.35));
  series.push(line('CCRW_A', i3, toPts(angAAll[r]), C_A, 2.2, 0.35));
  series.push(line('CCRW_L', i3, toPts(angLAll[r]), C_L, 2.2, 0.35));
  legends.push({ data: ['CCRW_A', 'CCRW_L', 'CRW', 'TLW/BW'], orient: 'vertical', left: 1088, top: rowTop(r) + 11, padding: 0,
    itemGap: 2.3, itemWidth: 13, itemHeight: 2.5, icon: 'rect', selectedMode: false, formatter: legendFmt, textStyle: legendText });
}

const chart = echarts.init(document.getElementById('c'), null, { renderer: 'canvas' });
chart.setOption({
  animation: false,
  backgroundColor: '#ffffff',
  textStyle: { fontFamily: FF },
  title: titles,
  legend: legends,
  grid: grids,
  xAxis: xAxes,
  yAxis: yAxes,
  tooltip: { show: false },
  series: series
});
</script></body></html>
